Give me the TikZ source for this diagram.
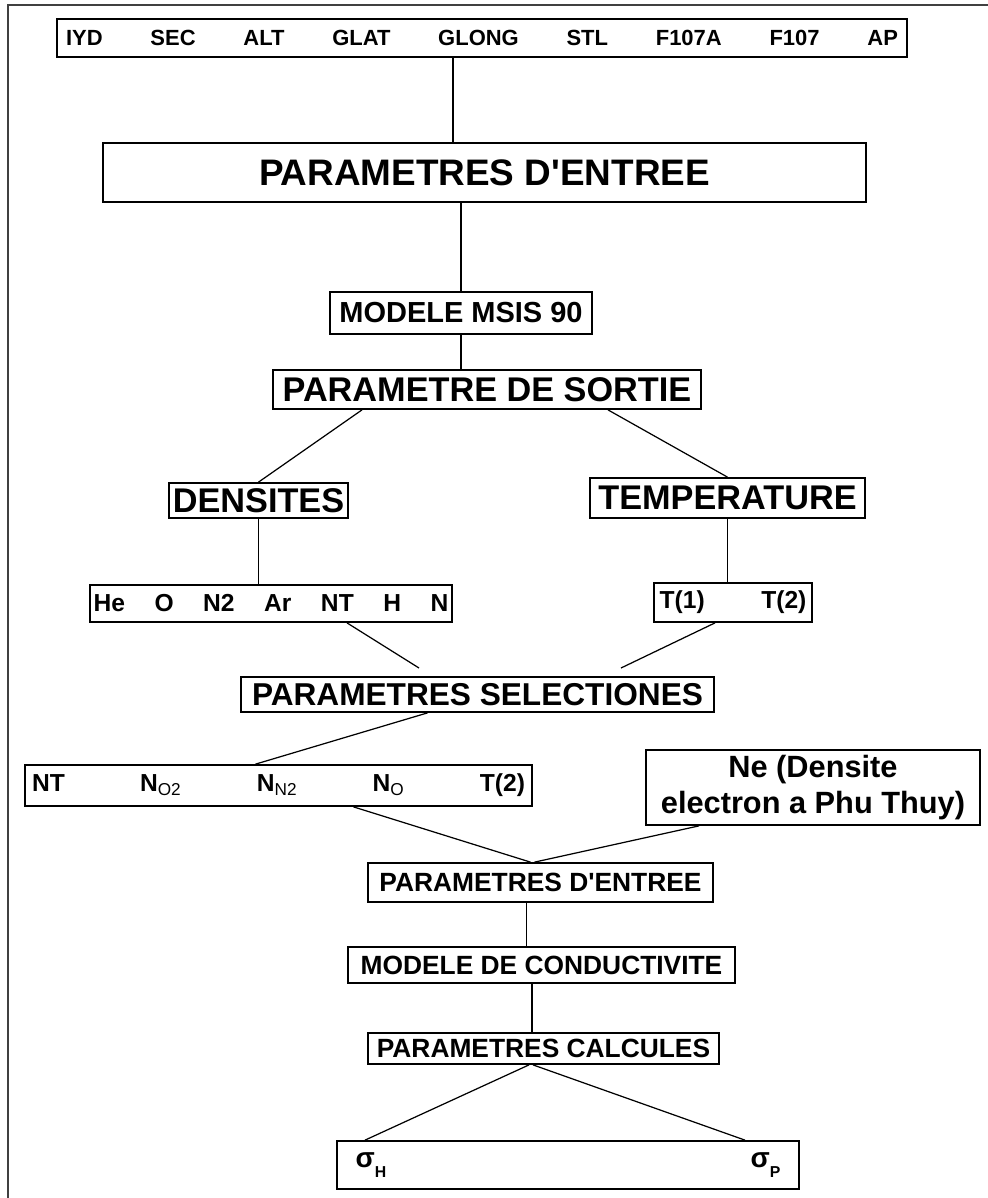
\documentclass[tikz,border=0pt]{standalone}
\usepackage{fontspec}
\setmainfont{Liberation Sans}
\usetikzlibrary{calc}

\newcommand{\sgm}[1]{σ\raisebox{-6pt}{\fontsize{9}{9}\selectfont #1}}

\begin{document}
\begin{tikzpicture}[x=0.02cm, y=-0.02cm,
  box/.style={draw, line width=1pt, inner sep=2pt, align=center},
  link/.style={line width=0.7pt},
  frame/.style={line width=1.2pt, draw=black!75},
]
\useasboundingbox (0,0) rectangle (988,1198);

% --- Outer frame (open to the right and bottom) ---
\draw[frame] (8,1198) |- (988,5);

% --- MSIS 90 part ---
\node[box, minimum width=17cm, minimum height=0.76cm, inner xsep=0.18cm, text width=16.64cm,
      font=\bfseries\fontsize{12.5}{15}\selectfont] (inputs) at (482,38)
  {IYD\hfill SEC\hfill ALT\hfill GLAT\hfill GLONG\hfill STL\hfill F107A\hfill F107\hfill AP};

\node[box, minimum width=15.26cm, minimum height=1.18cm,
      font=\bfseries\fontsize{21}{25}\selectfont] (entree) at (484.5,172.5) {PARAMETRES D\textquotesingle ENTREE};

\node[box, minimum width=5.24cm, minimum height=0.84cm,
      font=\bfseries\fontsize{16.5}{20}\selectfont] (msis) at (461,313) {MODELE MSIS 90};

\node[box, minimum width=8.56cm, minimum height=0.78cm,
      font=\bfseries\fontsize{19.5}{23}\selectfont] (sortie) at (487,389.5) {PARAMETRE DE SORTIE};

\node[box, minimum width=3.54cm, minimum height=0.70cm,
      font=\bfseries\fontsize{19.5}{23}\selectfont] (densites) at (258.5,500.5) {DENSITES};
\node[box, minimum width=5.5cm, minimum height=0.80cm,
      font=\bfseries\fontsize{19.5}{23}\selectfont] (temperature) at (727.5,498) {TEMPERATURE};

\node[box, minimum width=7.24cm, minimum height=0.74cm,
      font=\bfseries\fontsize{14}{17}\selectfont] (species) at (271,603.5)
  {He\hspace{1.2em}O\hspace{1.2em}N2\hspace{1.2em}Ar\hspace{1.2em}NT\hspace{1.2em}H\hspace{1.2em}N};
\node[box, minimum width=3.16cm, minimum height=0.78cm,
      font=\bfseries\fontsize{14}{17}\selectfont] (temps) at (733,602.5) {T(1)\hspace{2.3em}T(2)};

\node[box, minimum width=9.46cm, minimum height=0.70cm,
      font=\bfseries\fontsize{18}{22}\selectfont] (selection) at (477.5,694.5) {PARAMETRES SELECTIONES};

% --- Conductivity part ---
\node[box, minimum width=10.14cm, minimum height=0.82cm, inner xsep=0.14cm, text width=9.86cm,
      font=\bfseries\fontsize{14}{17}\selectfont] (selected) at (278.5,785.5)
  {NT\hfill N\textsubscript{\mdseries O2}\hfill N\textsubscript{\mdseries N2}\hfill
   N\textsubscript{\mdseries O}\hfill T(2)};
\node[box, minimum width=6.68cm, minimum height=1.5cm,
      font=\bfseries\fontsize{17.5}{21}\selectfont] (ne) at (813,787.5)
  {Ne (Densite\\electron a Phu Thuy)};

\node[box, minimum width=6.9cm, minimum height=0.78cm,
      font=\bfseries\fontsize{15}{18}\selectfont] (entree2) at (540.5,882.5) {PARAMETRES D\textquotesingle ENTREE};
\node[box, minimum width=7.74cm, minimum height=0.72cm,
      font=\bfseries\fontsize{15}{18}\selectfont] (conduct) at (541.5,965) {MODELE DE CONDUCTIVITE};
\node[box, minimum width=7.02cm, minimum height=0.62cm,
      font=\bfseries\fontsize{15}{18}\selectfont] (calcul) at (543.5,1048.5) {PARAMETRES CALCULES};

\node[box, minimum width=9.24cm, minimum height=0.96cm, text width=8.5cm,
      font=\bfseries\fontsize{16}{19}\selectfont] (sigma) at (568,1165) {\sgm{H}\hfill\sgm{P}};

% --- Free ends above the selection box ---
\coordinate (selL) at (419,668);
\coordinate (selR) at (621,668);

% --- Connectors ---
\draw[link] ($(inputs.south)+(-29,0)$) coordinate (a) -- (a |- entree.north);
\draw[link] (msis.north |- entree.south) -- (msis.north);
\draw[link] (msis.south) -- (msis.south |- sortie.north);
\draw[link] ($(sortie.south)+(-125,0)$) -- (densites.north);
\draw[link] ($(sortie.south)+(121,0)$) -- (temperature.north);
\draw[link] (densites.south) -- (densites.south |- species.north);
\draw[link] (temperature.south) -- (temperature.south |- temps.north);
\draw[link] ($(species.south)+(76,0)$) -- (selL);
\draw[link] ($(temps.south)+(-18,0)$) -- (selR);
\draw[link] ($(selection.south)+(-50,0)$) -- ($(selected.north)+(-23,0)$);
\draw[link] ($(selected.south)+(75,0)$) -- ($(entree2.north)+(-10,0)$);
\draw[link] ($(ne.south)+(-114,0)$) -- ($(entree2.north)+(-6,0)$);
\draw[link] ($(entree2.south)+(-14,0)$) coordinate (b) -- (b |- conduct.north);
\draw[link] ($(conduct.south)+(-9.5,0)$) coordinate (c) -- (c |- calcul.north);
\draw[link] ($(calcul.south)+(-14.5,0)$) -- ($(sigma.north)+(-203,0)$);
\draw[link] ($(calcul.south)+(-10.5,0)$) -- ($(sigma.north)+(177,0)$);

\end{tikzpicture}
\end{document}
